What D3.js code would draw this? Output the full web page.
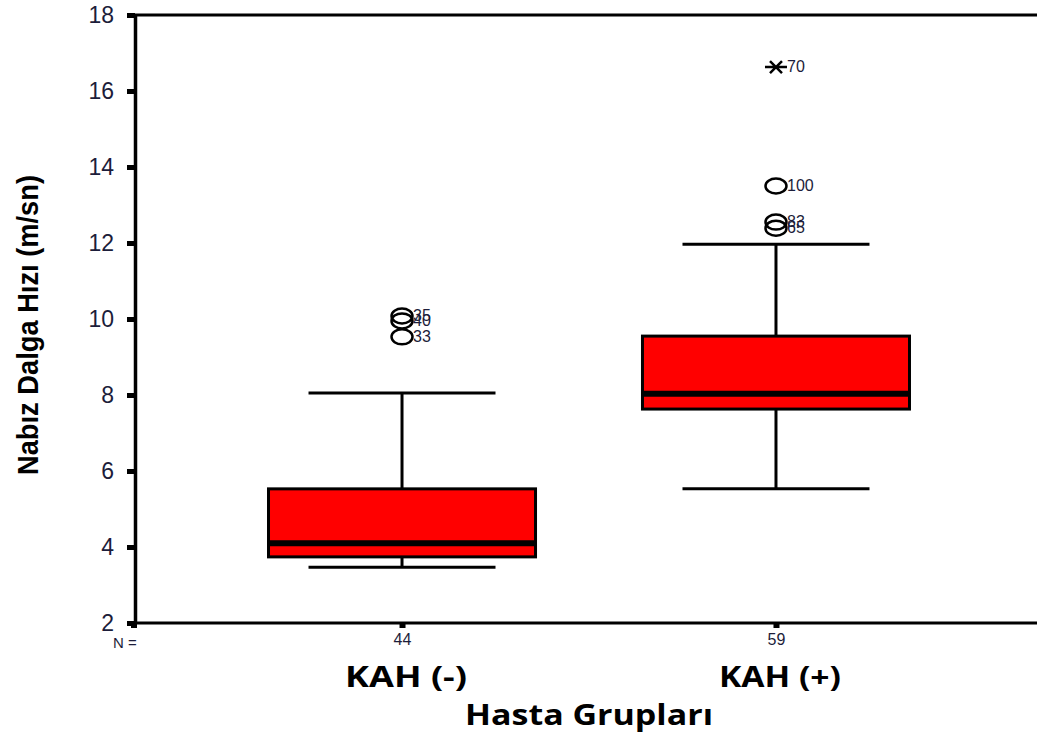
<!DOCTYPE html>
<html>
<head>
<meta charset="utf-8">
<script src="https://cdn.jsdelivr.net/npm/d3@7/dist/d3.min.js"></script>
<style>
  html, body { margin: 0; padding: 0; background: #fff; }
  svg { display: block; }
</style>
</head>
<body>
<svg id="chart" width="1037" height="733"></svg>
<script>
// Pulse wave velocity by patient group (box plot summary)
const groups = ["KAH (-)", "KAH (+)"];
const nCounts = [44, 59];
const whiskerLow = [3.47, 5.53];
const q1 = [3.74, 7.63];
const median = [4.10, 8.03];
const q3 = [5.53, 9.55];
const whiskerHigh = [8.05, 11.97];

// Outlying cases: group, value, case id, kind (circle = outlier, star = extreme)
const outlierGroup = ["KAH (-)", "KAH (-)", "KAH (-)", "KAH (+)", "KAH (+)", "KAH (+)", "KAH (+)"];
const outlierValue = [10.08, 9.95, 9.53, 16.63, 13.50, 12.55, 12.39];
const outlierId = ["35", "40", "33", "70", "100", "83", "65"];
const outlierKind = ["o", "o", "o", "*", "o", "o", "o"];

const yTicks = [2, 4, 6, 8, 10, 12, 14, 16, 18];

const svg = d3.select("#chart");
const plotLeft = 135, plotRight = 1043, plotTop = 15, plotBottom = 623;
const ink = "#1c1d3a";

const x = d3.scalePoint().domain(groups).range([plotLeft, plotRight]).padding(0.714);
const y = d3.scaleLinear().domain([2, 18]).range([plotBottom, plotTop]);
const step = x.step();
const boxHalf = step * 0.357;
const capHalf = step * 0.25;

const boxes = groups.map((g, i) => ({
  g, n: nCounts[i], lo: whiskerLow[i], q1: q1[i], med: median[i], q3: q3[i], hi: whiskerHigh[i]
}));

// Frame line along the top
svg.append("line").attr("x1", plotLeft).attr("x2", 1037).attr("y1", plotTop).attr("y2", plotTop)
  .attr("stroke", "#000").attr("stroke-width", 3);

// Y axis
const yAxis = d3.axisLeft(y).tickValues(yTicks).tickSize(0).tickPadding(21).tickFormat(d3.format("d"));
const yg = svg.append("g").attr("transform", `translate(${plotLeft},0)`).call(yAxis);
yg.select(".domain").attr("stroke", "#000").attr("stroke-width", 3.5);
yg.selectAll(".tick text").attr("font-family", "Liberation Sans, Arial, sans-serif")
  .attr("font-size", 23).attr("fill", ink);
yg.selectAll(".tick").append("rect").attr("x", -8).attr("y", -2.5).attr("width", 8).attr("height", 5).attr("fill", "#000");

// X axis with N counts as tick labels
const xAxis = d3.axisBottom(x).tickSize(0).tickPadding(11).tickFormat((d, i) => nCounts[i]);
const xg = svg.append("g").attr("transform", `translate(0,${plotBottom})`).call(xAxis);
xg.select(".domain").attr("d", `M${plotLeft},0H1037`).attr("stroke", "#000").attr("stroke-width", 3);
xg.selectAll(".tick text").attr("font-family", "Liberation Sans Narrow, Liberation Sans, Arial, sans-serif")
  .attr("font-size", 16).attr("fill", ink);
xg.selectAll(".tick").append("rect").attr("x", -3).attr("y", 0).attr("width", 6).attr("height", 5).attr("fill", "#000");
svg.append("rect").attr("x", plotLeft - 4).attr("y", plotBottom - 1).attr("width", 6).attr("height", 6).attr("fill", "#000");

svg.append("text").attr("x", 113).attr("y", 648).text("N =")
  .attr("font-family", "Liberation Sans, Arial, sans-serif").attr("font-size", 15).attr("fill", ink);

// Category labels
svg.selectAll("text.cat").data(groups).join("text").attr("class", "cat")
  .attr("x", d => x(d) + 4).attr("y", 687).attr("text-anchor", "middle")
  .attr("font-family", "Open Sans, sans-serif").attr("font-weight", "bold").attr("font-size", 28)
  .attr("textLength", 122).attr("lengthAdjust", "spacingAndGlyphs")
  .attr("fill", "#000").text(d => d);

// Axis titles
svg.append("text").attr("x", (plotLeft + plotRight) / 2).attr("y", 725).attr("text-anchor", "middle")
  .attr("font-family", "Open Sans, sans-serif").attr("font-weight", "bold").attr("font-size", 28)
  .attr("textLength", 248).attr("lengthAdjust", "spacingAndGlyphs")
  .attr("fill", "#000").text("Hasta Grupları");

svg.append("text").attr("transform", `translate(38,325) rotate(-90)`).attr("text-anchor", "middle")
  .attr("font-family", "Liberation Sans Narrow, Liberation Sans, Arial, sans-serif").attr("font-weight", "bold")
  .attr("font-size", 29).attr("textLength", 300).attr("lengthAdjust", "spacingAndGlyphs")
  .attr("fill", "#000").text("Nabız Dalga Hızı (m/sn)");

// Box plots
const bg = svg.append("g").selectAll("g").data(boxes).join("g");
bg.append("line").attr("x1", d => x(d.g)).attr("x2", d => x(d.g))
  .attr("y1", d => y(d.hi)).attr("y2", d => y(d.q3)).attr("stroke", "#000").attr("stroke-width", 3);
bg.append("line").attr("x1", d => x(d.g)).attr("x2", d => x(d.g))
  .attr("y1", d => y(d.q1)).attr("y2", d => y(d.lo)).attr("stroke", "#000").attr("stroke-width", 3);
bg.append("line").attr("x1", d => x(d.g) - capHalf).attr("x2", d => x(d.g) + capHalf)
  .attr("y1", d => y(d.hi)).attr("y2", d => y(d.hi)).attr("stroke", "#000").attr("stroke-width", 3);
bg.append("line").attr("x1", d => x(d.g) - capHalf).attr("x2", d => x(d.g) + capHalf)
  .attr("y1", d => y(d.lo)).attr("y2", d => y(d.lo)).attr("stroke", "#000").attr("stroke-width", 3);
bg.append("rect").attr("x", d => x(d.g) - boxHalf).attr("width", boxHalf * 2)
  .attr("y", d => y(d.q3)).attr("height", d => y(d.q1) - y(d.q3))
  .attr("fill", "#ff0000").attr("stroke", "#000").attr("stroke-width", 3);
bg.append("line").attr("x1", d => x(d.g) - boxHalf).attr("x2", d => x(d.g) + boxHalf)
  .attr("y1", d => y(d.med)).attr("y2", d => y(d.med)).attr("stroke", "#000").attr("stroke-width", 6);

// Outliers and extremes
const outliers = outlierValue.map((v, i) => ({ g: outlierGroup[i], v, id: outlierId[i], kind: outlierKind[i] }));
const og = svg.append("g").selectAll("g").data(outliers).join("g")
  .attr("transform", d => `translate(${x(d.g)},${y(d.v)})`);
og.filter(d => d.kind === "o").append("ellipse").attr("rx", 10.5).attr("ry", 7.5)
  .attr("fill", "none").attr("stroke", "#000").attr("stroke-width", 2.5);
og.filter(d => d.kind === "*").append("path")
  .attr("d", "M-11,0H11M-6,-6L6,6M-6,6L6,-6")
  .attr("fill", "none").attr("stroke", "#000").attr("stroke-width", 2.5);
og.append("text").attr("x", 11).attr("y", 5).text(d => d.id)
  .attr("font-family", "Liberation Sans, Arial, sans-serif").attr("font-size", 16).attr("fill", ink);
</script>
</body>
</html>
